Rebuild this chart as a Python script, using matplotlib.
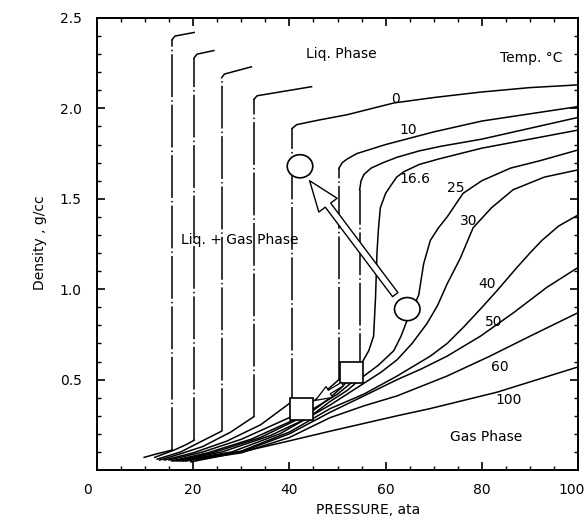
import matplotlib
matplotlib.use("Agg")
import matplotlib.pyplot as plt
from matplotlib.patches import Ellipse, Rectangle
from matplotlib.transforms import ScaledTranslation

# subcritical isotherms: gas branch, then two-phase jump, then liquid branch
sub_gas_p = [
    [9.8, 12.5, 15.6],
    [12.0, 16.0, 18.5, 20.2],
    [12.5, 17.4, 21.6, 25.9],
    [13.0, 17.4, 22.0, 27.8, 32.6],
    [14.0, 20.0, 27.0, 34.0, 40.6],
    [15.0, 22.0, 30.0, 40.0, 46.0, 50.3],
    [15.5, 23.0, 32.0, 42.0, 50.0, 54.6],
]
sub_gas_d = [
    [0.07, 0.09, 0.11],
    [0.07, 0.11, 0.14, 0.165],
    [0.06, 0.10, 0.157, 0.215],
    [0.055, 0.09, 0.13, 0.21, 0.295],
    [0.055, 0.095, 0.16, 0.25, 0.38],
    [0.055, 0.10, 0.17, 0.29, 0.40, 0.50],
    [0.05, 0.095, 0.17, 0.29, 0.42, 0.52],
]
sub_liq_p = [
    [15.6, 16.2, 20.2],
    [20.2, 20.8, 24.3],
    [25.9, 26.5, 32.1],
    [32.6, 33.3, 44.6],
    [40.6, 41.5, 46.0, 52.0, 61.7, 70.0, 79.7, 90.0, 100.0],
    [50.3, 51.0, 52.0, 54.0, 57.0, 60.0, 65.0, 70.0, 80.0, 90.0, 100.0],
    [54.6, 54.9, 55.5, 57.0, 59.5, 62.4, 67.0, 71.4, 80.0, 90.0, 100.0],
]
sub_liq_d = [
    [2.38, 2.40, 2.42],
    [2.28, 2.30, 2.32],
    [2.17, 2.19, 2.23],
    [2.05, 2.07, 2.12],
    [1.89, 1.91, 1.935, 1.965, 2.03, 2.06, 2.09, 2.115, 2.13],
    [1.67, 1.70, 1.72, 1.75, 1.775, 1.80, 1.835, 1.87, 1.93, 1.97, 2.01],
    [1.55, 1.60, 1.635, 1.67, 1.70, 1.73, 1.765, 1.79, 1.83, 1.89, 1.95],
]

# critical and supercritical isotherms
sup_p = [
    [16.0, 24.0, 34.0, 44.0, 48.0, 51.0, 54.8, 56.5, 57.5, 57.9, 58.2, 58.5,
     58.9, 60.0, 61.0, 62.3, 63.8, 67.0, 71.0, 80.0, 90.0, 100.0],
    [16.5, 26.0, 36.0, 44.0, 48.5, 52.0, 55.5, 58.5, 61.7, 63.2, 64.5, 65.8,
     66.9, 67.9, 69.3, 71.0, 72.8, 76.1, 80.0, 86.0, 92.0, 100.0],
    [17.0, 28.0, 38.0, 48.5, 55.5, 59.0, 62.4, 65.5, 68.6, 70.8, 72.8, 75.5,
     78.2, 82.0, 86.5, 93.0, 100.0],
    [17.5, 30.0, 40.0, 48.5, 55.5, 62.4, 69.3, 72.8, 76.2, 79.7, 83.1, 87.3,
     90.0, 92.5, 96.0, 100.0],
    [18.0, 30.0, 40.0, 48.5, 55.5, 62.4, 67.5, 72.8, 79.7, 86.6, 93.5, 100.0],
    [18.5, 30.0, 40.0, 48.5, 55.5, 62.4, 72.8, 81.7, 90.0, 100.0],
    [19.5, 30.0, 38.2, 48.5, 62.4, 69.3, 83.1, 100.0],
]
sup_d = [
    [0.05, 0.095, 0.18, 0.31, 0.39, 0.46, 0.58, 0.66, 0.74, 0.95, 1.20, 1.33,
     1.45, 1.53, 1.57, 1.62, 1.65, 1.69, 1.72, 1.78, 1.83, 1.88],
    [0.05, 0.10, 0.19, 0.29, 0.38, 0.44, 0.52, 0.58, 0.66, 0.74, 0.83, 0.90,
     0.97, 1.14, 1.27, 1.34, 1.40, 1.53, 1.60, 1.67, 1.71, 1.77],
    [0.05, 0.10, 0.20, 0.36, 0.48, 0.54, 0.61, 0.70, 0.81, 0.91, 1.03, 1.17,
     1.34, 1.45, 1.55, 1.62, 1.66],
    [0.05, 0.105, 0.21, 0.34, 0.42, 0.52, 0.63, 0.70, 0.79, 0.89, 0.99, 1.12,
     1.20, 1.27, 1.35, 1.41],
    [0.05, 0.10, 0.20, 0.32, 0.41, 0.50, 0.56, 0.63, 0.74, 0.87, 1.01, 1.12],
    [0.05, 0.095, 0.18, 0.29, 0.355, 0.41, 0.52, 0.63, 0.74, 0.87],
    [0.045, 0.10, 0.15, 0.215, 0.30, 0.34, 0.43, 0.57],
]

temp_labels = ['0', '10', '16.6', '25', '30', '40', '50', '60', '100']
temp_label_p = [62.0, 64.8, 66.2, 74.5, 77.2, 81.0, 82.4, 83.8, 85.5]
temp_label_d = [2.05, 1.88, 1.61, 1.56, 1.38, 1.03, 0.82, 0.57, 0.39]

# markers drawn on the chart (centre p, centre d)
circle_p = [42.2, 64.5]
circle_d = [1.68, 0.89]
square_p = [40.2, 50.6]
square_d = [0.276, 0.479]

fig = plt.figure(figsize=(5.88, 5.23), dpi=100)
ax = fig.add_axes([0.165, 0.1013, 0.818, 0.8643])

lw = 1.1
for gp, gd, lp, ld in zip(sub_gas_p, sub_gas_d, sub_liq_p, sub_liq_d):
    ax.plot(gp, gd, color='black', lw=lw)
    ax.plot([gp[-1], lp[0]], [gd[-1], ld[0]], color='black', lw=lw,
            linestyle=(0, (28, 2, 1, 2)))
    ax.plot(lp, ld, color='black', lw=lw)

for p, d in zip(sup_p, sup_d):
    ax.plot(p, d, color='black', lw=lw)

for t, p, d in zip(temp_labels, temp_label_p, temp_label_d):
    ax.text(p, d, t, fontsize=10, ha='center', va='center')

for p, d in zip(circle_p, circle_d):
    ax.add_patch(Ellipse((p, d), 5.3, 0.128, fc='white', ec='black', lw=1.2, zorder=5))
for p, d in zip(square_p, square_d):
    ax.add_patch(Rectangle((p, d), 4.6, 0.12, fc='white', ec='black', lw=1.2, zorder=5))

ax.annotate('', xy=(44.2, 1.60), xytext=(62.0, 0.97),
            arrowprops=dict(arrowstyle='simple,head_length=1.0,head_width=0.75,tail_width=0.22',
                            fc='white', ec='black', lw=1, mutation_scale=22,
                            shrinkA=0, shrinkB=0), zorder=6)
ax.annotate('', xy=(45.4, 0.385), xytext=(51.0, 0.475),
            arrowprops=dict(arrowstyle='simple,head_length=0.9,head_width=0.7,tail_width=0.22',
                            fc='white', ec='black', lw=0.9, mutation_scale=13,
                            shrinkA=0, shrinkB=0), zorder=6)

ax.text(50.8, 2.30, 'Liq. Phase', fontsize=10, ha='center', va='center')
ax.text(90.2, 2.28, 'Temp. °C', fontsize=10, ha='center', va='center')
ax.text(29.7, 1.27, 'Liq. + Gas Phase', fontsize=10, ha='center', va='center')
ax.text(80.9, 0.18, 'Gas Phase', fontsize=10, ha='center', va='center')

ax.set_xlim(0, 100)
ax.set_ylim(0, 2.5)
ax.set_xticks([20, 40, 60, 80, 100])
ax.set_xticks([5, 10, 15, 25, 30, 35, 45, 50, 55, 65, 70, 75, 85, 90, 95], minor=True)
ax.set_yticks([0.5, 1.0, 1.5, 2.0, 2.5])
ax.set_yticklabels(['0.5', '1.0', '1.5', '2.0', '2.5'])
ax.set_yticks([0.1, 0.2, 0.3, 0.4, 0.6, 0.7, 0.8, 0.9, 1.1, 1.2, 1.3, 1.4,
               1.6, 1.7, 1.8, 1.9, 2.1, 2.2, 2.3, 2.4], minor=True)
ax.tick_params(which='both', direction='in', top=True, right=True, labelsize=10)
ax.tick_params(which='major', length=6, width=1.2)
ax.tick_params(which='minor', length=3, width=1)
ax.tick_params(axis='y', pad=11)
ax.tick_params(axis='x', pad=9)
for s in ax.spines.values():
    s.set_linewidth(1.4)

# last x label sits flush with the figure edge in the original
last = ax.get_xticklabels()[-1]
last.set_transform(last.get_transform() + ScaledTranslation(-6 / 100, 0, fig.dpi_scale_trans))

fig.text(88 / 588, 1 - 490 / 523, '0', fontsize=10, ha='center', va='center')
fig.text(368 / 588, 1 - 510 / 523, 'PRESSURE, ata', fontsize=10, ha='center', va='center')
fig.text(40 / 588, 1 - 243 / 523, 'Density , g/cc', fontsize=10, ha='center',
         va='center', rotation=90)

fig.savefig('out.png', dpi=100)
